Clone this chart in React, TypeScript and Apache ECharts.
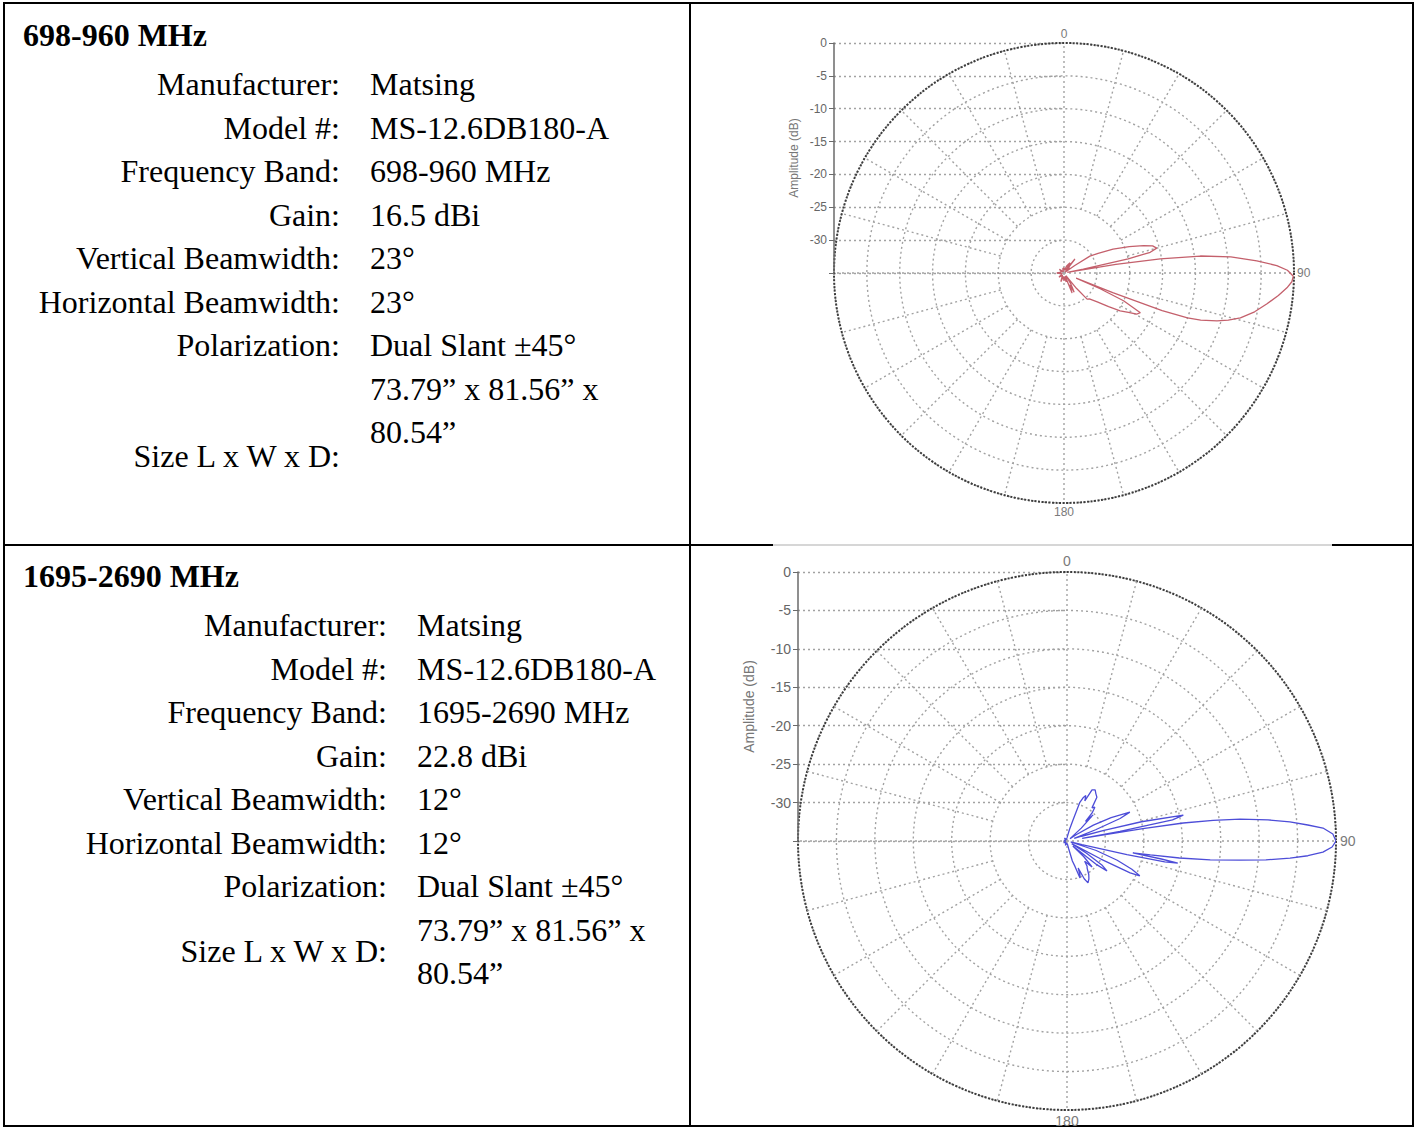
import React, { useEffect, useRef } from "react";
import * as echarts from "echarts";

// ---------- Data ----------
const DB_MIN = -35;
const DB_MAX = 0;
const DB_STEP = 5;
const ANGLE_LABELS = [0, 90, 180];
const SPOKE_ANGLES = [15, 30, 45, 60, 75, 105, 120, 135, 150, 165, 195, 210, 225, 240, 255, 285, 300, 315, 330, 345];
const CARDINAL_ANGLES = [0, 90, 180, 270];
const SPOKE_INNER_DB = -25;

const BAND_TITLES = ["698-960 MHz", "1695-2690 MHz"];
const SPEC_LABELS = [
  "Manufacturer:",
  "Model #:",
  "Frequency Band:",
  "Gain:",
  "Vertical Beamwidth:",
  "Horizontal Beamwidth:",
  "Polarization:",
  "Size L x W x D:",
];
const SPEC_VALUES_698 = ["Matsing", "MS-12.6DB180-A", "698-960 MHz", "16.5 dBi", "23°", "23°", "Dual Slant ±45°"];
const SPEC_VALUES_1695 = ["Matsing", "MS-12.6DB180-A", "1695-2690 MHz", "22.8 dBi", "12°", "12°", "Dual Slant ±45°"];
const SIZE_LINES = ["73.79\u201D x 81.56\u201D x", "80.54\u201D"];

// pattern: [angle (deg, clockwise from top), amplitude (dB)]
const PATTERN_698: [number, number][] = [
  [0, -34.2], [10, -34.6], [20, -33.9], [28, -33.4], [31, -33.2], [34, -34.5], [38, -32.3], [42, -34.6],
  [48, -33.8], [52, -34.8], [55, -33], [57, -30.3], [60, -29], [64, -26.7], [68, -24.3], [71, -22.2],
  [73, -20.9], [75, -20.4], [76.5, -21.5], [77.5, -25], [78.5, -32], [79.5, -34.5],
  [80.5, -27], [81.7, -20.2], [82.9, -14.1], [84.5, -9.5], [86.4, -5.6], [88, -2.6], [89.3, -1.0],
  [90.8, -0.1], [92.2, -0.3], [93.8, -1.0], [96, -2.2], [98.7, -3.8], [101.5, -5.4], [104.3, -7.3],
  [106, -9], [107.4, -10.6], [109, -13], [110, -15], [111, -19], [112, -27], [112.8, -33],
  [113.5, -29], [115, -25], [117.5, -21.9], [119.5, -22.3], [121.5, -23.5], [124, -24.7], [127, -26.5],
  [131, -28.3], [135, -29.4], [138.5, -29.7], [141, -32], [144, -34.5], [148, -33], [152, -31.7],
  [155, -33], [158, -31.7], [161, -34.5], [166, -33.6], [172, -34.4], [180, -33.8], [190, -34.5],
  [200, -33.6], [215, -34.6], [230, -34], [250, -34.7], [270, -33.9], [290, -34.6], [310, -34.1],
  [330, -34.8], [345, -34.3], [360, -34.2],
];

const PATTERN_1695: [number, number][] = [
  [0, -34.6], [8, -34.2], [12, -33.5], [16, -32.2], [18.4, -29.7], [20.4, -29.0], [22.5, -28.6], [24, -29.3],
  [26.1, -27.6], [28.8, -27.4], [31.5, -27.8], [34.3, -28.1], [37, -29.6], [39.5, -29.3], [41.8, -30.1],
  [43.5, -31.5], [45, -30.2], [48, -32.5], [52, -34.5], [56, -33.5], [59, -31], [62, -28.5], [65.3, -26],
  [67, -27.5], [68.5, -31], [70, -34], [72, -33], [74, -30], [75.5, -25], [77.5, -19.5], [78.7, -21],
  [79.6, -28], [80.3, -33],
  [80.8, -25], [81.2, -19.7], [82, -15.8], [82.8, -12.3], [84, -8.7], [85.1, -5.9], [86.2, -3.6],
  [87.1, -1.65], [88.5, -0.4], [90, 0], [91.3, -0.5], [92.5, -1.67], [93.5, -3.6], [94.4, -5.9],
  [95.4, -9], [96.3, -12.4], [97.5, -16.2], [98.6, -20.2], [99.5, -24], [100.2, -26.3], [100.8, -22.5],
  [101.3, -20.3], [102, -22], [102.8, -27], [103.5, -33],
  [105, -34.5], [108, -31], [111, -28], [113.5, -25.8], [115.6, -24.5], [116.8, -25.8], [118, -30],
  [119.5, -34.3], [122, -32], [124.5, -29.5], [126.9, -28.5], [128.5, -30], [130.5, -34], [133, -32],
  [136, -30.3], [139, -31.5], [141.5, -30.8], [143.5, -30.6], [147, -29.8], [150, -29.3], [153.4, -28.9],
  [155.5, -29.6], [157.5, -31.2], [159, -30.3], [160.6, -29.9], [162.5, -31.5], [165, -32.3], [168, -34],
  [172, -34.6], [185, -34.7], [200, -34.4], [220, -34.8], [240, -34.5], [260, -34.8], [280, -34.6],
  [300, -34.8], [320, -34.5], [340, -34.8], [360, -34.6],
];

// ---------- Layout / style ----------
const SANS = '"Liberation Sans", Arial, sans-serif';
const SERIF = '"Liberation Serif", "Times New Roman", serif';
const GRID_COLOR = "#a2a2a2";
const GRID_DASH = [2, 3];

const PLOTS = [
  { cx: 1064, cy: 273, r: 230, font: 12, nameFont: 12, nameGap: 34, angleMargin: 3, color: "#c4606c", data: PATTERN_698 },
  { cx: 1067, cy: 841, r: 269, font: 14, nameFont: 14, nameGap: 42, angleMargin: 4, color: "#4d4dd8", data: PATTERN_1695 },
];

function buildOption() {
  const polar: any[] = [];
  const angleAxis: any[] = [];
  const radiusAxis: any[] = [];
  const grid: any[] = [];
  const xAxis: any[] = [];
  const yAxis: any[] = [];
  const series: any[] = [];

  PLOTS.forEach((p, i) => {
    polar.push({ center: [p.cx, p.cy], radius: p.r });
    angleAxis.push({
      polarIndex: i,
      type: "value",
      min: 0,
      max: 360,
      interval: 90,
      startAngle: 90,
      clockwise: true,
      axisLine: { show: true, lineStyle: { color: "#3c3c3c", width: 2, type: [2, 1.5] } },
      axisTick: { show: false },
      splitLine: { show: false },
      axisLabel: {
        show: true,
        margin: p.angleMargin,
        color: "#7a7a7a",
        fontSize: p.font,
        fontFamily: SANS,
        formatter: (v: number) => (ANGLE_LABELS.includes(v) ? String(v) : ""),
      },
    });
    radiusAxis.push({
      polarIndex: i,
      type: "value",
      min: DB_MIN,
      max: DB_MAX,
      interval: DB_STEP,
      axisLine: { show: false },
      axisTick: { show: false },
      axisLabel: { show: false },
      splitLine: { show: true, lineStyle: { color: GRID_COLOR, width: 1.4, type: GRID_DASH } },
    });
    grid.push({ left: p.cx - p.r, top: p.cy - p.r, width: p.r, height: p.r, containLabel: false });
    xAxis.push({ gridIndex: i, type: "value", min: 0, max: 1, show: false });
    yAxis.push({
      gridIndex: i,
      type: "value",
      min: DB_MIN,
      max: DB_MAX,
      interval: DB_STEP,
      name: "Amplitude (dB)",
      nameLocation: "middle",
      nameRotate: 90,
      nameGap: p.nameGap,
      nameTextStyle: { color: "#767676", fontSize: p.nameFont, fontFamily: SANS },
      axisLine: { show: true, lineStyle: { color: "#6a6a6a", width: 1.5 } },
      axisTick: { show: true, length: 5, lineStyle: { color: "#6a6a6a" } },
      axisLabel: {
        color: "#666666",
        fontSize: p.font,
        fontFamily: SANS,
        margin: 7,
        formatter: (v: number) => (v === DB_MIN ? "" : String(v)),
      },
      splitLine: { show: true, lineStyle: { color: GRID_COLOR, width: 1.4, type: GRID_DASH } },
    });

    const spokeStyle = { color: GRID_COLOR, width: 1.4, type: GRID_DASH };
    SPOKE_ANGLES.forEach((a) => {
      series.push({
        type: "line",
        coordinateSystem: "polar",
        polarIndex: i,
        data: [[SPOKE_INNER_DB, a], [DB_MAX, a]],
        symbol: "none",
        silent: true,
        z: 1,
        lineStyle: spokeStyle,
      });
    });
    CARDINAL_ANGLES.forEach((a) => {
      series.push({
        type: "line",
        coordinateSystem: "polar",
        polarIndex: i,
        data: [[DB_MIN, a], [DB_MAX, a]],
        symbol: "none",
        silent: true,
        z: 1,
        lineStyle: spokeStyle,
      });
    });
    series.push({
      type: "line",
      name: BAND_TITLES[i],
      coordinateSystem: "polar",
      polarIndex: i,
      data: p.data.map(([a, d]) => [d, a]),
      symbol: "none",
      silent: true,
      z: 5,
      lineStyle: { color: p.color, width: 1.3 },
    });
  });

  // ---------- Table & text ----------
  const elements: any[] = [];
  const black = { stroke: "#000", lineWidth: 2 };
  elements.push({ type: "rect", shape: { x: 4, y: 3, width: 1409, height: 1123 }, style: { fill: "none", ...black } });
  elements.push({ type: "line", shape: { x1: 690, y1: 3, x2: 690, y2: 1126 }, style: black });
  elements.push({ type: "line", shape: { x1: 4, y1: 545, x2: 773, y2: 545 }, style: black });
  elements.push({ type: "line", shape: { x1: 1332, y1: 545, x2: 1413, y2: 545 }, style: black });
  elements.push({ type: "line", shape: { x1: 773, y1: 545, x2: 1332, y2: 545 }, style: { stroke: "#c8c8c8", lineWidth: 1.5 } });

  const rows = [
    { titleY: 35, firstY: 84, labelX: 340, valueX: 370, sizeLabelY: 456, values: SPEC_VALUES_698 },
    { titleY: 576, firstY: 625, labelX: 387, valueX: 417, sizeLabelY: 951, values: SPEC_VALUES_1695 },
  ];
  const step = 43.5;
  rows.forEach((row, ri) => {
    elements.push({
      type: "text",
      x: 23,
      y: row.titleY,
      style: { text: BAND_TITLES[ri], font: `bold 32px ${SERIF}`, fill: "#000", align: "left", verticalAlign: "middle" },
    });
    SPEC_LABELS.forEach((lab, k) => {
      const y = k < 7 ? row.firstY + k * step : row.sizeLabelY;
      elements.push({
        type: "text",
        x: row.labelX,
        y,
        style: { text: lab, font: `32px ${SERIF}`, fill: "#000", align: "right", verticalAlign: "middle" },
      });
    });
    row.values.forEach((val, k) => {
      elements.push({
        type: "text",
        x: row.valueX,
        y: row.firstY + k * step,
        style: { text: val, font: `32px ${SERIF}`, fill: "#000", align: "left", verticalAlign: "middle" },
      });
    });
    SIZE_LINES.forEach((val, k) => {
      elements.push({
        type: "text",
        x: row.valueX,
        y: row.firstY + (7 + k) * step,
        style: { text: val, font: `32px ${SERIF}`, fill: "#000", align: "left", verticalAlign: "middle" },
      });
    });
  });

  return {
    animation: false,
    backgroundColor: "#ffffff",
    polar,
    angleAxis,
    radiusAxis,
    grid,
    xAxis,
    yAxis,
    series,
    graphic: { elements },
  };
}

export default function App() {
  const ref = useRef<HTMLDivElement>(null);
  useEffect(() => {
    if (!ref.current) return;
    const chart = echarts.init(ref.current, undefined, { renderer: "svg" });
    chart.setOption(buildOption() as any);
    return () => chart.dispose();
  }, []);
  return (
    <div
      ref={ref}
      style={{ position: "absolute", left: 0, top: 0, width: 1416, height: 1128, background: "#fff" }}
    />
  );
}
